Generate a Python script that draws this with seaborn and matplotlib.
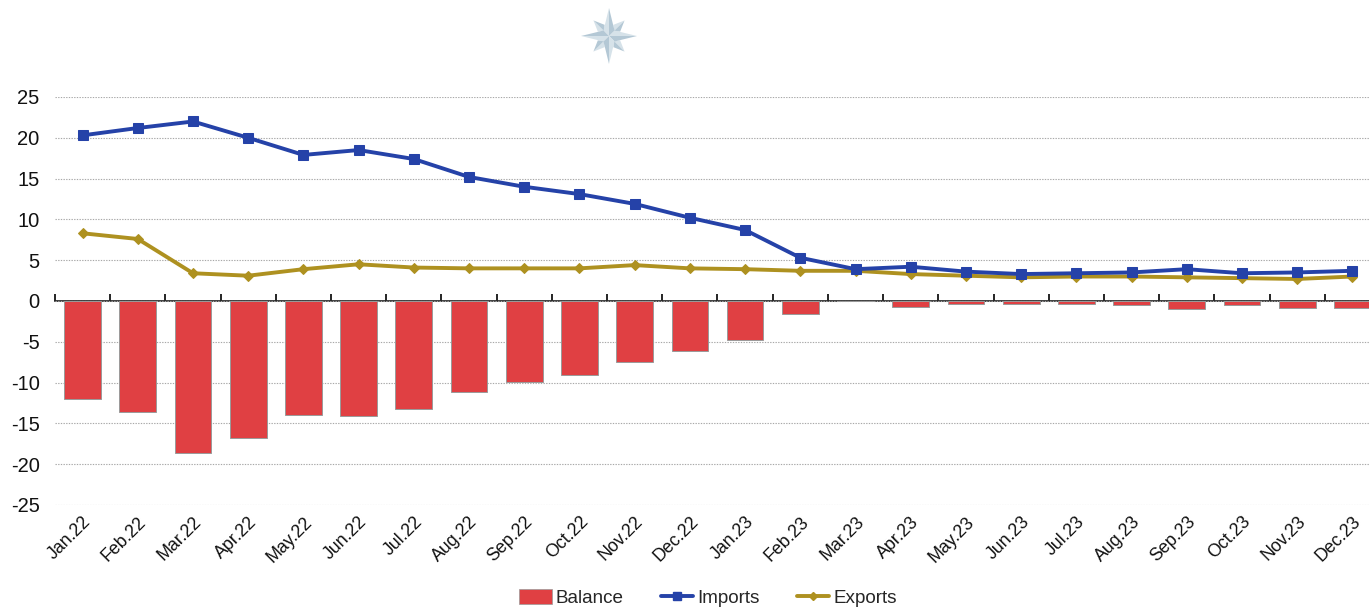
import numpy as np
import pandas as pd
import matplotlib
matplotlib.use("Agg")
import matplotlib.pyplot as plt
from matplotlib.patches import Patch, Polygon
from matplotlib.lines import Line2D
import seaborn as sns

months = ["Jan.22", "Feb.22", "Mar.22", "Apr.22", "May.22", "Jun.22", "Jul.22",
          "Aug.22", "Sep.22", "Oct.22", "Nov.22", "Dec.22", "Jan.23", "Feb.23",
          "Mar.23", "Apr.23", "May.23", "Jun.23", "Jul.23", "Aug.23", "Sep.23",
          "Oct.23", "Nov.23", "Dec.23"]
imports = [20.3, 21.2, 22.0, 20.0, 17.9, 18.5, 17.4, 15.2, 14.0, 13.1, 11.9, 10.2,
           8.7, 5.3, 3.9, 4.2, 3.6, 3.3, 3.4, 3.5, 3.9, 3.4, 3.5, 3.7]
exports = [8.3, 7.6, 3.4, 3.1, 3.9, 4.5, 4.1, 4.0, 4.0, 4.0, 4.4, 4.0,
           3.9, 3.7, 3.7, 3.3, 3.1, 2.9, 3.0, 3.0, 2.9, 2.8, 2.7, 3.0]
balance = [-12.0, -13.6, -18.6, -16.8, -14.0, -14.1, -13.2, -11.2, -9.9, -9.1, -7.5, -6.1,
           -4.8, -1.6, 0.0, -0.7, -0.4, -0.4, -0.4, -0.5, -1.0, -0.5, -0.8, -0.8]
y_ticks = [-25, -20, -15, -10, -5, 0, 5, 10, 15, 20, 25]

RED = "#E04043"
BLUE = "#2542A8"
GOLD = "#AE9120"

sns.set_theme(style="white")
plt.rcParams["font.family"] = ["Liberation Sans", "DejaVu Sans"]

df = pd.DataFrame({"month": months, "imports": imports,
                   "exports": exports, "balance": balance})
df["pos"] = np.arange(len(df))

W, H = 1369, 609
fig = plt.figure(figsize=(W / 100, H / 100), dpi=100)
ax = fig.add_axes([55 / W, 1 - 505 / H, 1325 / W, 408 / H])

sns.barplot(data=df, x="month", y="balance", color=RED, saturation=1,
            width=0.665, edgecolor="#9a9a9a", linewidth=0.7, ax=ax, zorder=2)
sns.lineplot(data=df, x="pos", y="imports", color=BLUE, linewidth=2.8,
             marker="s", markersize=7.5, markeredgecolor=BLUE, ax=ax, zorder=4)
sns.lineplot(data=df, x="pos", y="exports", color=GOLD, linewidth=2.8,
             marker="D", markersize=5.5, markeredgecolor=GOLD, ax=ax, zorder=3)

ax.set_xlim(-0.5, len(months) - 0.5)
ax.set_ylim(-25, 25)
ax.set_yticks(y_ticks)
ax.set_yticklabels([str(v) for v in y_ticks])
ax.set_xticks(np.arange(len(months)))
ax.set_xticklabels(months, rotation=45, ha="right", rotation_mode="anchor")
ax.set_xlabel("")
ax.set_ylabel("")
ax.tick_params(axis="y", length=0, pad=11, labelsize=14.5, colors="#111111")
ax.tick_params(axis="x", length=0, pad=6, labelsize=12.8, colors="#111111")
for s in ax.spines.values():
    s.set_visible(False)
ax.set_axisbelow(True)
ax.grid(axis="y", color="#a8a8a8", linestyle=(0, (1.2, 1.2)), linewidth=0.8)
ax.grid(axis="x", visible=False)

# zero line with category boundary ticks
zero_ax = ax.secondary_xaxis(0.5)
zero_ax.set_xticks(np.arange(len(months) + 1) - 0.5)
zero_ax.set_xticklabels([])
zero_ax.tick_params(axis="x", direction="out", length=5, width=1.2, color="black")
zero_ax.spines["bottom"].set_color("black")
zero_ax.spines["bottom"].set_linewidth(1.6)
zero_ax.spines["bottom"].set_zorder(5)

# legend
handles = [
    Patch(facecolor=RED, edgecolor="#9a9a9a", linewidth=0.5),
    Line2D([], [], color=BLUE, linewidth=2.8, marker="s", markersize=6),
    Line2D([], [], color=GOLD, linewidth=2.8, marker="D", markersize=4.5),
]
fig.legend(handles, ["Balance", "Imports", "Exports"], loc="center",
           bbox_to_anchor=(708 / W, 1 - 598 / H), ncol=3, frameon=False,
           fontsize=13.6, handlelength=1.7, handleheight=0.85, handletextpad=0.2,
           columnspacing=2.0)

# compass rose emblem
lax = fig.add_axes([577 / W, 1 - 68 / H, 64 / W, 64 / H])
lax.set_xlim(-32, 32)
lax.set_ylim(-32, 32)
lax.set_aspect("equal")
lax.axis("off")
dark, light = "#B4C8D5", "#D6E2E9"


def point(ang_deg, r_tip, r_side, side_half, r_base=0.0, z=1):
    a = np.deg2rad(ang_deg)
    u = np.array([np.cos(a), np.sin(a)])
    p = np.array([-np.sin(a), np.cos(a)])
    base = u * r_base
    tip = u * r_tip
    s1 = u * r_side + p * side_half
    s2 = u * r_side - p * side_half
    lax.add_patch(Polygon([base, s1, tip], closed=True, facecolor=light,
                          edgecolor="none", zorder=z))
    lax.add_patch(Polygon([base, tip, s2], closed=True, facecolor=dark,
                          edgecolor="none", zorder=z))


for k in range(4):
    point(45 + 90 * k, 22, 11, 4.8, r_base=6.5, z=1)
for k in range(4):
    point(90 * k, 28, 5.5, 5.5, r_base=0.0, z=2)

fig.savefig("out.png", dpi=100, facecolor="white")
